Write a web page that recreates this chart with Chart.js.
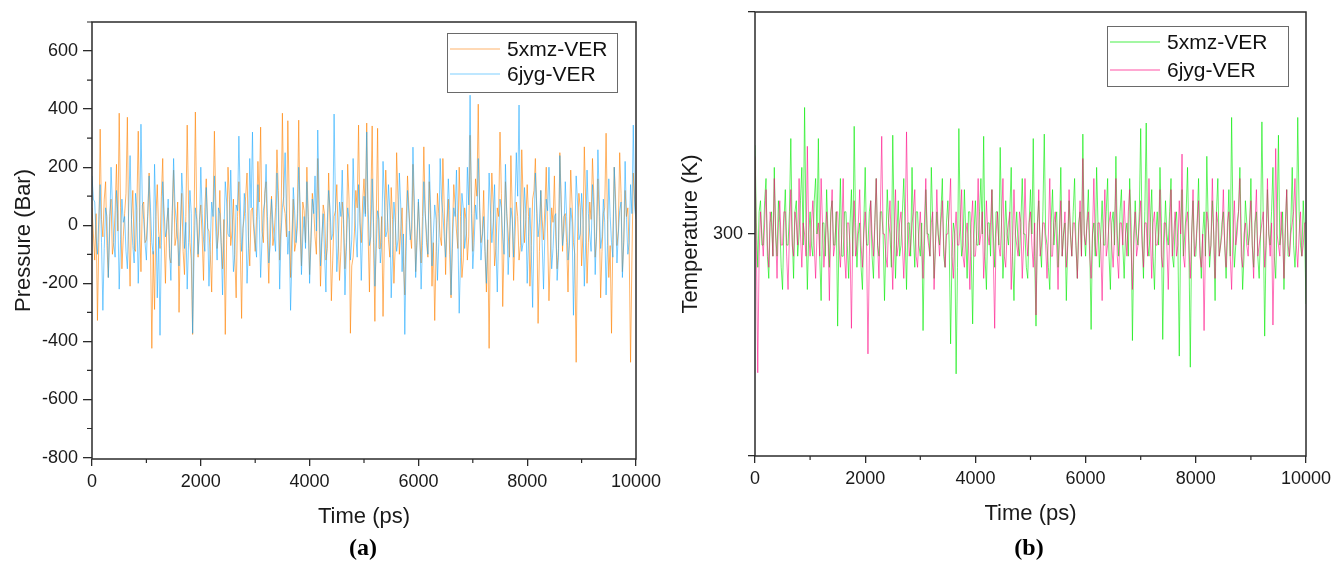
<!DOCTYPE html>
<html>
<head>
<meta charset="UTF-8" />
<title>Pressure and Temperature vs Time</title>
<script src="https://cdn.jsdelivr.net/npm/chart.js"></script>
<style>
  html, body { margin: 0; padding: 0; background: #fff; }
  body { width: 1333px; height: 571px; position: relative; overflow: hidden; }
  canvas { position: absolute; top: 0; }
  .caption { position: absolute; top: 534px; font: bold 24px "Liberation Serif", "Times New Roman", serif; color: #000; transform: translateX(-50%); }
</style>
</head>
<body>

<canvas id="pressureChart" width="666" height="571" style="left:0"></canvas>
<canvas id="tempChart" width="667" height="571" style="left:666px"></canvas>
<div class="caption" style="left:363px">(a)</div>
<div class="caption" style="left:1029px">(b)</div>

<script>
  // time axis (ps), one sample every 25 ps
  const timePs = [
    0,25,50,75,100,125,150,175,200,225,250,275,300,325,350,375,400,425,450,475,
    500,525,550,575,600,625,650,675,700,725,750,775,800,825,850,875,900,925,950,975,
    1000,1025,1050,1075,1100,1125,1150,1175,1200,1225,1250,1275,1300,1325,1350,1375,1400,1425,1450,1475,
    1500,1525,1550,1575,1600,1625,1650,1675,1700,1725,1750,1775,1800,1825,1850,1875,1900,1925,1950,1975,
    2000,2025,2050,2075,2100,2125,2150,2175,2200,2225,2250,2275,2300,2325,2350,2375,2400,2425,2450,2475,
    2500,2525,2550,2575,2600,2625,2650,2675,2700,2725,2750,2775,2800,2825,2850,2875,2900,2925,2950,2975,
    3000,3025,3050,3075,3100,3125,3150,3175,3200,3225,3250,3275,3300,3325,3350,3375,3400,3425,3450,3475,
    3500,3525,3550,3575,3600,3625,3650,3675,3700,3725,3750,3775,3800,3825,3850,3875,3900,3925,3950,3975,
    4000,4025,4050,4075,4100,4125,4150,4175,4200,4225,4250,4275,4300,4325,4350,4375,4400,4425,4450,4475,
    4500,4525,4550,4575,4600,4625,4650,4675,4700,4725,4750,4775,4800,4825,4850,4875,4900,4925,4950,4975,
    5000,5025,5050,5075,5100,5125,5150,5175,5200,5225,5250,5275,5300,5325,5350,5375,5400,5425,5450,5475,
    5500,5525,5550,5575,5600,5625,5650,5675,5700,5725,5750,5775,5800,5825,5850,5875,5900,5925,5950,5975,
    6000,6025,6050,6075,6100,6125,6150,6175,6200,6225,6250,6275,6300,6325,6350,6375,6400,6425,6450,6475,
    6500,6525,6550,6575,6600,6625,6650,6675,6700,6725,6750,6775,6800,6825,6850,6875,6900,6925,6950,6975,
    7000,7025,7050,7075,7100,7125,7150,7175,7200,7225,7250,7275,7300,7325,7350,7375,7400,7425,7450,7475,
    7500,7525,7550,7575,7600,7625,7650,7675,7700,7725,7750,7775,7800,7825,7850,7875,7900,7925,7950,7975,
    8000,8025,8050,8075,8100,8125,8150,8175,8200,8225,8250,8275,8300,8325,8350,8375,8400,8425,8450,8475,
    8500,8525,8550,8575,8600,8625,8650,8675,8700,8725,8750,8775,8800,8825,8850,8875,8900,8925,8950,8975,
    9000,9025,9050,9075,9100,9125,9150,9175,9200,9225,9250,9275,9300,9325,9350,9375,9400,9425,9450,9475,
    9500,9525,9550,9575,9600,9625,9650,9675,9700,9725,9750,9775,9800,9825,9850,9875,9900,9925,9950,9975,
    10000
  ];

  // (a) pressure, bar
  const pressure5xmz = [
    60,-30,-120,40,-328,-60,331,20,-40,90,150,-70,-180,30,90,-100,-60,50,210,-20,
    386,60,-150,-40,40,110,372,-50,-210,20,120,-80,-90,60,324,10,-160,70,80,-60,
    -50,40,180,-60,-424,-90,-290,30,140,-20,-80,100,230,-40,-200,10,60,-110,-130,50,
    190,-70,-40,80,-300,-20,110,-90,-170,30,345,70,-60,-120,-376,0,390,40,-110,20,
    70,-40,-190,60,160,-10,-20,-100,-230,40,324,80,-80,-30,120,-60,-150,20,-376,-50,
    200,90,-70,-20,90,-110,-250,30,150,-60,-321,-10,30,100,180,-40,-140,50,60,-20,
    -90,30,220,80,338,-20,-60,110,150,-50,-200,20,100,-70,-30,60,260,120,-120,10,
    386,70,40,-40,360,90,-180,-30,90,-90,-60,40,362,-10,-140,80,50,-60,200,30,
    -170,-40,110,60,-40,-100,230,20,-210,-60,70,40,-120,-80,180,10,-260,-120,30,50,
    140,-30,-190,-90,80,20,-150,-60,210,90,-372,-140,-110,-20,120,60,345,10,-60,80,
    160,40,352,-30,-230,70,342,-60,-331,20,334,-80,-80,30,-314,-40,190,60,-50,-110,
    130,20,-200,-70,250,90,-100,-20,60,-130,-240,10,170,60,-30,-80,210,40,-160,-30,
    80,-50,-130,30,270,50,-60,-110,150,20,-210,-60,-328,-90,110,40,-40,-70,230,60,
    -170,10,90,-100,-250,-30,140,70,-20,-80,200,30,-180,-120,60,20,-120,-40,310,90,
    -90,40,160,100,417,60,-60,-30,120,-90,-230,-50,-424,-20,180,70,-140,-80,60,30,
    321,110,-280,-60,150,40,-30,-110,240,50,-190,-40,80,30,-120,-70,260,90,-60,20,
    140,30,-210,-70,90,120,230,40,-338,-90,120,20,-50,60,200,-30,-260,-110,60,10,
    170,-40,-150,-80,250,90,-90,30,40,-60,-230,-20,190,70,-60,-100,-472,-40,110,60,
    -140,-30,270,80,-200,-60,80,20,230,100,-110,-40,160,30,-250,-90,40,60,317,20,
    -180,-70,-372,-50,200,90,-70,-20,250,110,-160,-60,120,30,60,-90,-472,-120,180,90,
    40
  ];
  const pressure6jyg = [
    170,90,80,-40,-100,20,140,-60,-293,-80,60,30,-180,-20,200,70,-60,-110,120,40,
    -220,-50,90,10,30,-90,-150,60,240,20,-70,-130,110,50,-200,-30,348,80,20,-60,
    -120,30,170,60,-60,-100,210,20,-250,-40,-379,-70,150,50,-40,-10,90,-80,-190,30,
    230,70,10,-50,-140,-20,180,90,-80,10,-220,-60,120,40,-372,-110,60,20,-100,-30,
    200,40,-50,-90,130,10,-210,-60,80,30,170,-20,-120,60,40,-70,-240,-30,150,80,
    -30,-40,190,20,-160,-100,70,50,307,90,-90,-20,110,40,-200,-80,230,60,321,10,
    -60,-110,140,20,-180,-50,50,80,210,30,-130,-70,90,10,-40,-90,180,60,-220,-30,
    60,100,250,40,-100,-20,-293,-120,130,50,-60,-10,200,70,-170,-40,30,-80,150,20,
    -200,-60,90,40,170,-20,328,90,-140,-40,40,-100,-230,10,120,60,-50,-30,383,80,
    -160,-70,80,30,190,-10,-240,-90,60,20,-120,-50,230,70,-30,-110,140,40,-190,-20,
    100,30,321,60,-70,-40,160,10,-210,-80,50,20,-130,-60,220,90,-40,-20,140,50,
    -250,-100,80,10,-90,-50,180,70,-160,-30,-376,-90,120,40,-50,-10,269,80,-180,-60,
    90,-20,-220,-70,150,40,-30,-100,210,60,-140,-30,70,20,-190,-60,230,90,40,-40,
    -110,10,160,50,-240,-80,60,30,190,-20,-303,-110,110,60,-80,-30,200,70,448,40,
    -150,-60,70,20,230,80,-120,-40,30,-90,-200,-20,180,50,-60,10,140,-70,-230,-30,
    90,60,-40,-100,210,30,-170,-50,60,20,-110,70,250,100,414,20,-90,-60,130,40,
    -200,-40,60,-90,-283,-20,180,70,-40,10,120,-60,-220,-30,90,50,200,20,-150,-80,
    30,40,-190,-110,240,60,-70,-20,150,30,-120,-70,60,10,-310,-50,170,80,-50,-30,
    110,20,-210,-60,190,40,-30,-90,140,60,-170,-20,260,90,-80,-40,90,10,-240,-70,
    160,30,-60,-110,200,50,-130,-30,50,80,-180,-50,220,20,-100,-60,140,40,345,60,
    20
  ];

  // (b) temperature, K
  const temp5xmz = [
    308,301,297,302,303,299,299,303,305,298,296,301,302,298,306,300,298,303,301,297,
    295,301,304,299,299,302,308.6,300,296,302,303,298,300,303,306,299,311.4,301,295,300,
    302,299,298,303,305,300,308.6,298,294,301,301,298,304,300,297,302,303,299,299,302,
    291.7,300,305,298,298,302,302,299,296,301,304,298,309.7,301,297,300,301,297,295,301,
    306,299,299,302,303,298,296,301,305,299,298,302,302,300,294,299,304,301,300,297,
    308.9,301,296,300,303,298,299,302,305,300,295,301,301,298,306,300,297,302,302,299,
    298,301,291.3,299,304,300,300,298,306,301,296,299,302,300,299,302,305,298,297,301,
    303,299,290.1,298,301,300,287.4,297,309.5,301,298,299,304,300,296,302,302,298,291.9,300,
    303,299,299,302,305,300,308.8,298,295,301,301,298,304,300,297,302,302,299,307.8,301,
    296,299,303,300,299,302,306,298,294,300,302,299,298,301,305,300,300,297,296,301,
    304,300,308.6,298,291.7,301,303,299,297,302,309,300,299,297,295,301,304,299,301,302,
    297,300,306,298,300,301,294,299,303,300,298,302,305,299,296,301,302,298,309,300,
    298,301,304,299,291.4,300,301,298,306,301,297,300,303,299,299,302,305,298,295,301,
    302,299,307,300,298,302,304,299,296,300,301,298,305,301,290.4,299,303,300,299,302,
    309.5,300,296,302,310,299,298,301,304,298,295,300,302,299,306,301,290.5,299,303,300,
    299,302,305,298,297,301,302,299,289,300,304,298,300,302,306,299,288,300,303,298,
    298,301,305,299,296,300,302,298,307,301,297,299,303,300,294,302,305,298,299,301,
    302,299,296,300,304,298,310.5,301,297,299,301,302,306,300,295,298,303,301,299,300,
    305,299,297,301,302,298,296,300,310.1,301,290.8,299,304,300,299,302,306,298,296,301,
    308.9,299,300,302,295,300,304,298,298,301,306,299,297,300,310.5,302,299,298,303,300,
    293.7
  ];
  const temp6jyg = [
    307,299,287.5,298,302,300,298,301,304,299,297,302,301,298,305,300,296,301,303,299,
    299,302,302,298,295,300,304,299,298,302,301,299,305,300,297,301,300,298,307.9,300,
    298,301,303,299,296,300,301,298,305,301,297,299,302,300,294,301,304,298,299,302,
    302,299,297,300,305,298,296,301,301,299,291.5,300,303,298,299,301,304,299,297,300,
    302,299,289.2,298,303,300,298,301,305,299,296,302,308.8,300,300,298,297,301,303,299,
    295,300,304,298,299,301,302,299,296,300,309.2,301,298,299,301,302,304,298,297,300,
    302,299,296,301,305,300,299,298,301,302,295,299,304,300,298,301,303,299,297,300,
    300,302,305,298,296,300,302,299,299,301,304,298,297,300,301,299,295,301,303,298,
    298,300,305,299,300,302,296,299,303,300,299,301,304,298,291.5,300,302,299,298,301,
    305,298,297,300,301,302,295,299,304,300,299,298,302,301,296,299,305,300,298,301,
    302,299,297,301,292.7,300,304,298,299,301,301,299,296,300,305,298,298,301,302,299,
    295,300,303,298,300,302,297,299,304,300,298,301,301,299,296,300,303,298,306.8,300,
    299,301,302,298,296,300,305,299,298,301,301,299,294,300,304,298,299,301,302,299,
    297,300,305,298,296,301,301,299,303,300,298,302,304,299,295,300,302,298,299,301,
    303,299,297,301,301,298,305,300,296,301,302,299,299,300,304,298,297,301,301,299,
    295,300,304,298,300,302,298,299,303,300,307.2,298,297,301,302,299,296,300,304,298,
    299,301,303,298,297,300,291.3,299,302,301,298,299,305,300,296,302,301,298,299,300,
    304,299,297,301,302,298,295,300,303,299,300,302,305,298,297,300,301,299,298,301,
    303,299,296,301,304,298,299,300,301,302,297,299,305,300,298,301,291.8,299,307.7,300,
    299,298,302,300,296,301,304,299,298,300,301,302,305,299,297,300,302,298,299,301,
    301
  ];

  // tick labels
  const timeTicks = [0, 2000, 4000, 6000, 8000, 10000];
  const timeMinorTicks = [1000, 3000, 5000, 7000, 9000];
  const pressureTicks = [-800, -600, -400, -200, 0, 200, 400, 600];
  const pressureMinorTicks = [-700, -500, -300, -100, 100, 300, 500, 700];
  const tempTicks = [280, 300, 320];
  const tempLabelled = [300];

  const AXIS = '#2b2b2b';
  const FONT = "'Liberation Sans', Arial, sans-serif";

  function toPoints(series) {
    return series.map((v, i) => ({ x: timePs[i], y: v }));
  }

  // frame, minor ticks and the boxed legend
  const framePlugin = {
    id: 'frame',
    afterDraw(chart, args, opts) {
      const { ctx, chartArea: a, scales } = chart;
      ctx.save();
      ctx.strokeStyle = AXIS;
      ctx.lineWidth = 1.5;
      ctx.strokeRect(a.left, a.top, a.right - a.left, a.bottom - a.top);

      ctx.lineWidth = 1.2;
      ctx.beginPath();
      (opts.xMinor || []).forEach(v => {
        const px = scales.x.getPixelForValue(v);
        ctx.moveTo(px, a.bottom);
        ctx.lineTo(px, a.bottom + 4);
      });
      (opts.yMinor || []).forEach(v => {
        const py = scales.y.getPixelForValue(v);
        ctx.moveTo(a.left, py);
        ctx.lineTo(a.left - 5, py);
      });
      ctx.stroke();

      // legend box
      const L = opts.legend;
      const bx = a.right - L.right - L.width;
      const by = a.top + L.top;
      ctx.fillStyle = '#fff';
      ctx.fillRect(bx, by, L.width, L.height);
      ctx.strokeStyle = '#6a6a6a';
      ctx.lineWidth = 1;
      ctx.strokeRect(bx + 0.5, by + 0.5, L.width, L.height);
      ctx.font = '21px ' + FONT;
      ctx.textBaseline = 'middle';
      chart.data.datasets.forEach((ds, i) => {
        const y = by + L.rows[i];
        ctx.strokeStyle = ds.legendColor;
        ctx.lineWidth = 1.5;
        ctx.beginPath();
        ctx.moveTo(bx + 3, y);
        ctx.lineTo(bx + 53, y);
        ctx.stroke();
        ctx.fillStyle = '#111';
        ctx.fillText(ds.label, bx + 60, y + 1);
      });
      ctx.restore();
    }
  };

  function makeAxis(cfg) {
    return {
      type: 'linear',
      min: cfg.min,
      max: cfg.max,
      border: { display: false },
      grid: { drawOnChartArea: false, drawTicks: true, tickLength: cfg.tickLength, color: AXIS, lineWidth: 1.3 },
      afterBuildTicks: s => { s.ticks = cfg.ticks.map(v => ({ value: v })); },
      afterFit: s => {
        if (cfg.width) s.width = cfg.width;
        if (cfg.height) s.height = cfg.height;
        s.paddingLeft = 0; s.paddingRight = 0; s.paddingTop = 0; s.paddingBottom = 0;
      },
      ticks: {
        autoSkip: false,
        maxRotation: 0,
        padding: cfg.tickPadding,
        color: '#1a1a1a',
        font: { family: FONT, size: 18 },
        callback: cfg.labelCb || (v => v)
      },
      title: {
        display: true,
        text: cfg.title,
        color: '#1a1a1a',
        font: { family: FONT, size: 22 },
        padding: cfg.titlePadding
      }
    };
  }

  function lineSet(label, series, color, legendColor, order) {
    return {
      label: label,
      data: toPoints(series),
      borderColor: color,
      legendColor: legendColor,
      borderWidth: 1,
      pointRadius: 0,
      tension: 0,
      fill: false,
      order: order
    };
  }

  new Chart(document.getElementById('pressureChart'), {
    type: 'line',
    data: {
      datasets: [
        lineSet('5xmz-VER', pressure5xmz, 'rgba(255,130,0,0.6)', 'rgba(255,170,90,0.6)', 1),
        lineSet('6jyg-VER', pressure6jyg, 'rgba(20,165,255,0.55)', 'rgba(110,200,255,0.6)', 0)
      ]
    },
    options: {
      responsive: false,
      animation: false,
      layout: { padding: { top: 22, right: 30, bottom: 37, left: 0 } },
      plugins: {
        legend: { display: false },
        tooltip: { enabled: false },
        frame: {
          xMinor: timeMinorTicks,
          yMinor: pressureMinorTicks,
          legend: { right: 19, top: 11, width: 170, height: 59, rows: [16, 41] }
        }
      },
      scales: {
        x: makeAxis({ min: 0, max: 10000, ticks: timeTicks, tickLength: 7, tickPadding: 5,
                      height: 75, title: 'Time (ps)', titlePadding: { top: 0, bottom: 4 } }),
        y: makeAxis({ min: -805, max: 700, ticks: pressureTicks, tickLength: 9, tickPadding: 5,
                      width: 92, title: 'Pressure (Bar)', titlePadding: { top: 11, bottom: 0 } })
      }
    },
    plugins: [framePlugin]
  });

  new Chart(document.getElementById('tempChart'), {
    type: 'line',
    data: {
      datasets: [
        lineSet('5xmz-VER', temp5xmz, 'rgba(0,235,0,0.6)', 'rgba(80,240,80,0.7)', 1),
        lineSet('6jyg-VER', temp6jyg, 'rgba(255,0,130,0.55)', 'rgba(255,90,170,0.7)', 0)
      ]
    },
    options: {
      responsive: false,
      animation: false,
      layout: { padding: { top: 12, right: 27, bottom: 40, left: 0 } },
      plugins: {
        legend: { display: false },
        tooltip: { enabled: false },
        frame: {
          xMinor: timeMinorTicks,
          yMinor: [],
          legend: { right: 18, top: 14, width: 181, height: 60, rows: [16, 44] }
        }
      },
      scales: {
        x: makeAxis({ min: 0, max: 10000, ticks: timeTicks, tickLength: 7, tickPadding: 5,
                      height: 75, title: 'Time (ps)', titlePadding: { top: 0, bottom: 4 } }),
        y: makeAxis({ min: 280, max: 320, ticks: tempTicks, tickLength: 7, tickPadding: 5,
                      width: 89, title: 'Temperature (K)', titlePadding: { top: 12, bottom: 0 },
                      labelCb: v => (tempLabelled.includes(v) ? v : '') })
      }
    },
    plugins: [framePlugin]
  });
</script>

</body>
</html>
